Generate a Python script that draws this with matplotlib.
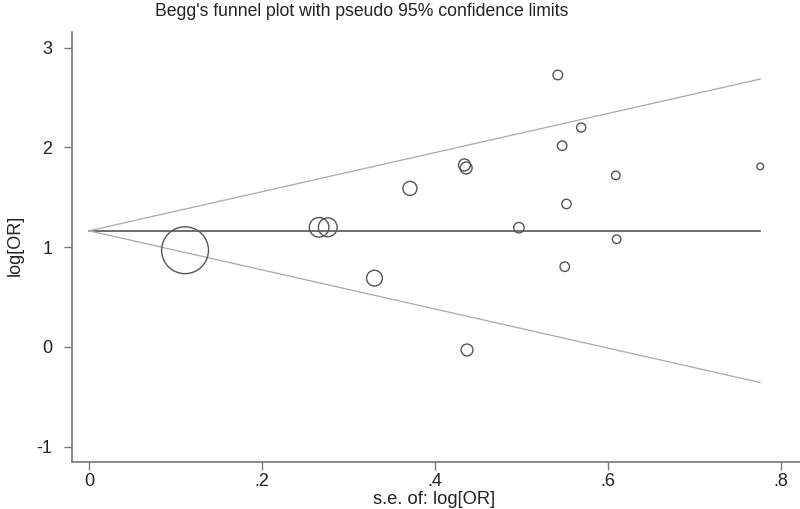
import matplotlib
matplotlib.use("Agg")
import matplotlib.pyplot as plt
import numpy as np

# study standard errors and log odds ratios
se = [0.111, 0.266, 0.276, 0.330, 0.371, 0.434, 0.436, 0.437, 0.497,
      0.542, 0.547, 0.550, 0.552, 0.569, 0.609, 0.610, 0.776]
logor = [0.97, 1.20, 1.20, 0.69, 1.59, 1.825, 1.795, -0.03, 1.196,
         2.727, 2.018, 0.805, 1.434, 2.20, 1.72, 1.08, 1.81]
pooled = 1.165

x_ticks = [0, 0.2, 0.4, 0.6, 0.8]
x_ticklabels = ["0", ".2", ".4", ".6", ".8"]
y_ticks = [-1, 0, 1, 2, 3]

plt.rcParams['font.family'] = ['Liberation Sans', 'DejaVu Sans']
plt.rcParams['axes.unicode_minus'] = False

fig = plt.figure(figsize=(8, 5.09), dpi=100)
ax = fig.add_axes([0.09, 0.0923, 0.91, 0.8447])

se_arr = np.array(se)
# marker size proportional to study weight (1/se)
diam_pt = 2 * 2.6 / se_arr * 0.72
ax.scatter(se, logor, s=diam_pt ** 2, facecolors='none', edgecolors='#555555',
           linewidths=1.0, zorder=3)

se_max = se_arr.max()
ax.plot([0, se_max], [pooled, pooled], color='#555555', lw=1.2)
ax.plot([0, se_max], [pooled, pooled + 1.96 * se_max], color='#b0b0b0', lw=1.0)
ax.plot([0, se_max], [pooled, pooled - 1.96 * se_max], color='#b0b0b0', lw=1.0)

ax.set_xlim(-0.0197, 0.822)
ax.set_ylim(-1.153, 3.157)
ax.set_xticks(x_ticks)
ax.set_xticklabels(x_ticklabels)
ax.set_yticks(y_ticks)

for s in ['top', 'right']:
    ax.spines[s].set_visible(False)
for s in ['left', 'bottom']:
    ax.spines[s].set_color('#777777')
    ax.spines[s].set_linewidth(1.2)
ax.tick_params(axis='y', length=6, width=1, color='#777777', pad=8,
               labelsize=13, labelcolor='#222222')
ax.tick_params(axis='x', length=6, width=1, color='#777777', pad=2,
               labelsize=13, labelcolor='#222222')

fig.text(15 / 800, 1 - 245 / 509, "log[OR]", rotation=90, ha='center', va='center',
         fontsize=13, color='#222222')
fig.text(434 / 800, 1 - 500 / 509, "s.e. of: log[OR]", ha='center', va='center',
         fontsize=13.2, color='#222222')
fig.text(362 / 800, 1 - 11 / 509, "Begg's funnel plot with pseudo 95% confidence limits",
         ha='center', va='center', fontsize=12.7, color='#222222')

fig.savefig("out.png", dpi=100)
